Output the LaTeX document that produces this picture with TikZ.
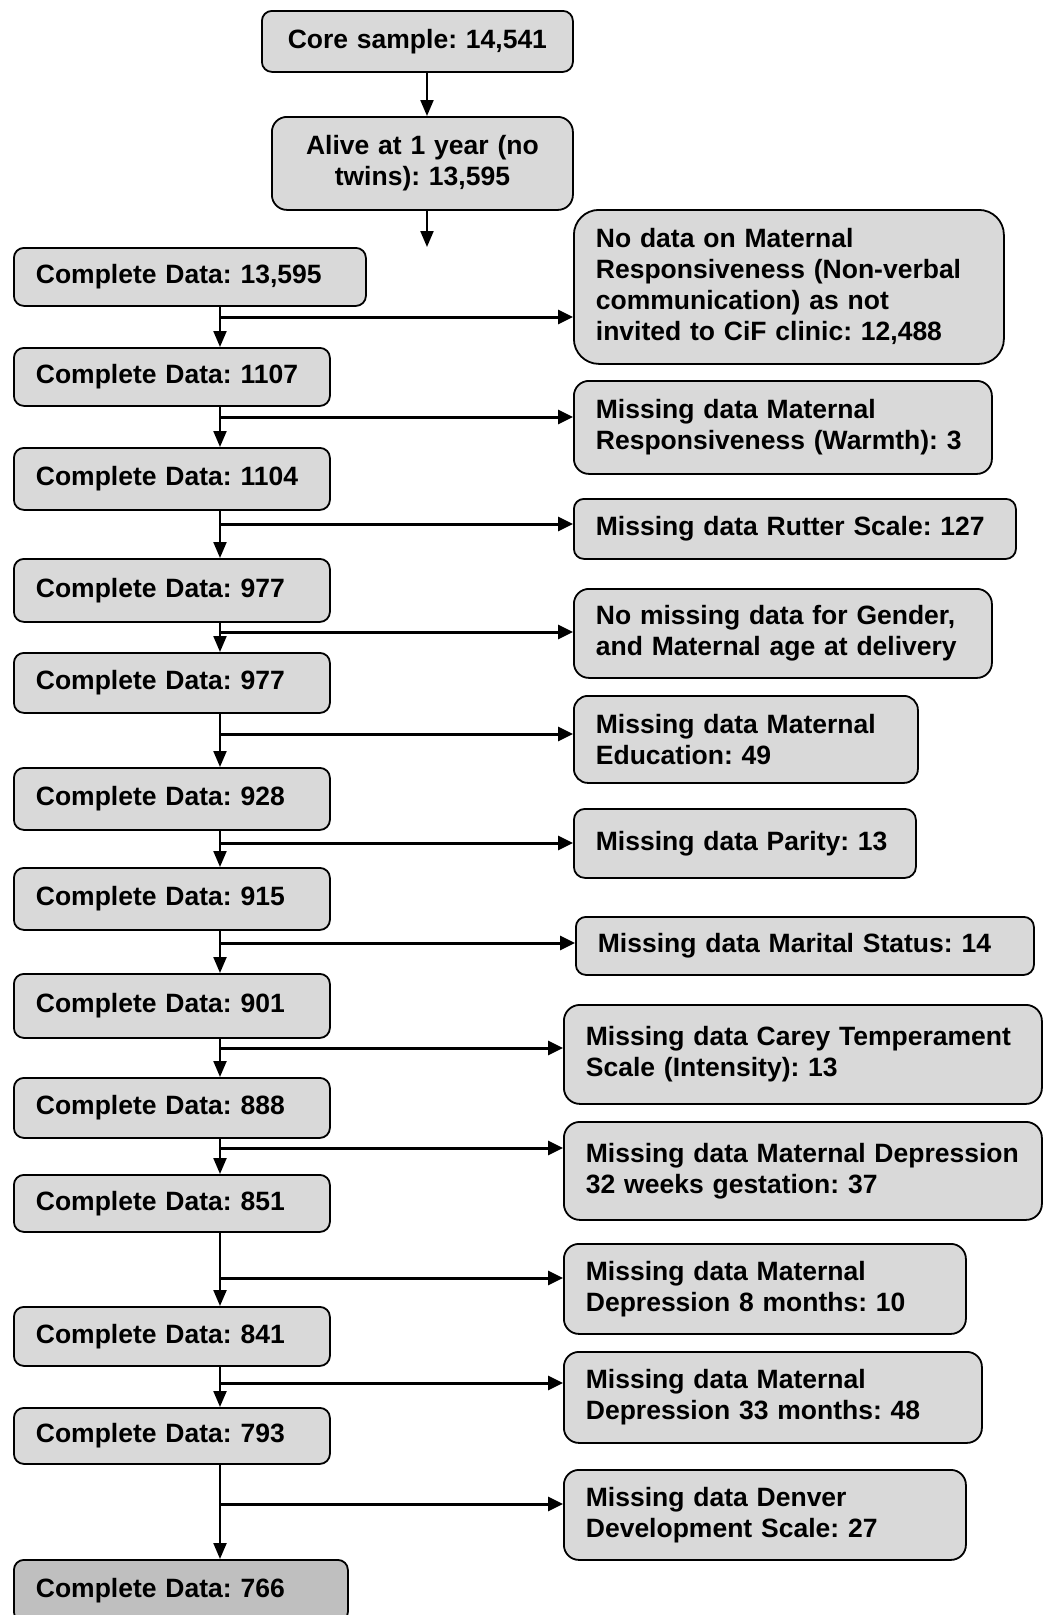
\documentclass[tikz,border=0pt]{standalone}
\usepackage{fontspec}
\setmainfont{Liberation Sans}
\usetikzlibrary{arrows.meta}
\definecolor{boxgray}{HTML}{D9D9D9}
\definecolor{lastgray}{HTML}{BFBFBF}
\frenchspacing

\begin{document}
\begin{tikzpicture}[x=1pt,y=-1pt,
 	stage/.style={draw, line width=1.8pt, fill=boxgray, rounded corners=10pt, anchor=north west, align=left, inner xsep=22pt, inner ysep=0pt, font=\fontsize{26.5}{31}\selectfont\bfseries},
 	flow/.style={line width=2.2pt, -{Triangle[length=16pt,width=13pt]}},
 	side/.style={line width=3pt, -{Triangle[length=15pt,width=14pt]}}]
 		\useasboundingbox (0,0) rectangle (1042,1615);
 		\node [stage, align=center, text width=267pt, minimum height=61pt] (core) at (261,10) {Core sample: 14,541};
 		\node [stage, align=center, text width=257pt, minimum height=93pt, rounded corners=15pt] (alive) at (271,116) {Alive at 1 year (no\\twins): 13,595};
 		\coordinate (top) at (427,0);
 		\coordinate (gap) at (427,247);
 		\draw [flow] (core.south -| top) -- (alive.north -| top);
 		\draw [flow] (alive.south -| top) -- (gap);
 		\node [stage, text width=308pt, minimum height=58pt] (cd1) at (13,247) {Complete Data: 13,595};
 		\node [stage, text width=272pt, minimum height=58pt] (cd2) at (13,347) {Complete Data: 1107};
 		\node [stage, text width=272pt, minimum height=62pt] (cd3) at (13,447) {Complete Data: 1104};
 		\node [stage, text width=272pt, minimum height=63pt] (cd4) at (13,558) {Complete Data: 977};
 		\node [stage, text width=272pt, minimum height=60pt] (cd5) at (13,652) {Complete Data: 977};
 		\node [stage, text width=272pt, minimum height=62pt] (cd6) at (13,767) {Complete Data: 928};
 		\node [stage, text width=272pt, minimum height=62pt] (cd7) at (13,867) {Complete Data: 915};
 		\node [stage, text width=272pt, minimum height=64pt] (cd8) at (13,973) {Complete Data: 901};
 		\node [stage, text width=272pt, minimum height=60pt] (cd9) at (13,1077) {Complete Data: 888};
 		\node [stage, text width=272pt, minimum height=57pt] (cd10) at (13,1174) {Complete Data: 851};
 		\node [stage, text width=272pt, minimum height=59pt] (cd11) at (13,1306) {Complete Data: 841};
 		\node [stage, text width=272pt, minimum height=56pt] (cd12) at (13,1407) {Complete Data: 793};
 		\node [stage, text width=290pt, minimum height=62pt, fill=lastgray] (cd13) at (13,1559) {Complete Data: 766};
 		\node [stage, text width=386pt, minimum height=154pt, rounded corners=25pt] (nodata) at (573,209) {No data on Maternal\\Responsiveness (Non-verbal\\communication) as not\\invited to CiF clinic: 12,488};
 		\node [stage, text width=374pt, minimum height=93pt, rounded corners=15pt] (warmth) at (573,380) {Missing data Maternal\\Responsiveness (Warmth): 3};
 		\node [stage, text width=398pt, minimum height=60pt] (rutter) at (573,498) {Missing data Rutter Scale: 127};
 		\node [stage, text width=374pt, minimum height=89pt, rounded corners=15pt] (gender) at (573,588) {No missing data for Gender,\\and Maternal age at delivery};
 		\node [stage, text width=300pt, minimum height=87pt, rounded corners=14pt] (educ) at (573,695) {Missing data Maternal\\Education: 49};
 		\node [stage, text width=298pt, minimum height=69pt, rounded corners=11pt] (parity) at (573,808) {Missing data Parity: 13};
 		\node [stage, text width=414pt, minimum height=58pt] (marital) at (575,916) {Missing data Marital Status: 14};
 		\node [stage, text width=434pt, minimum height=99pt, rounded corners=16pt] (carey) at (563,1004) {Missing data Carey Temperament\\Scale (Intensity): 13};
 		\node [stage, text width=434pt, minimum height=98pt, rounded corners=16pt] (dep32) at (563,1121) {Missing data Maternal Depression\\32 weeks gestation: 37};
 		\node [stage, text width=358pt, minimum height=90pt, rounded corners=15pt] (dep8) at (563,1243) {Missing data Maternal\\Depression 8 months: 10};
 		\node [stage, text width=374pt, minimum height=91pt, rounded corners=15pt] (dep33) at (563,1351) {Missing data Maternal\\Depression 33 months: 48};
 		\node [stage, text width=358pt, minimum height=90pt, rounded corners=15pt] (denver) at (563,1469) {Missing data Denver\\Development Scale: 27};
 		\coordinate (spine) at (220,0);
 		\draw [flow] (cd1.south -| spine) -- (cd2.north -| spine);
 		\draw [flow] (cd2.south -| spine) -- (cd3.north -| spine);
 		\draw [flow] (cd3.south -| spine) -- (cd4.north -| spine);
 		\draw [flow] (cd4.south -| spine) -- (cd5.north -| spine);
 		\draw [flow] (cd5.south -| spine) -- (cd6.north -| spine);
 		\draw [flow] (cd6.south -| spine) -- (cd7.north -| spine);
 		\draw [flow] (cd7.south -| spine) -- (cd8.north -| spine);
 		\draw [flow] (cd8.south -| spine) -- (cd9.north -| spine);
 		\draw [flow] (cd9.south -| spine) -- (cd10.north -| spine);
 		\draw [flow] (cd10.south -| spine) -- (cd11.north -| spine);
 		\draw [flow] (cd11.south -| spine) -- (cd12.north -| spine);
 		\draw [flow] (cd12.south -| spine) -- (cd13.north -| spine);
 		\coordinate (b1) at (220,317);
 		\coordinate (b2) at (220,417);
 		\coordinate (b3) at (220,524);
 		\coordinate (b4) at (220,632);
 		\coordinate (b5) at (220,734);
 		\coordinate (b6) at (220,843);
 		\coordinate (b7) at (220,943);
 		\coordinate (b8) at (220,1048);
 		\coordinate (b9) at (220,1148);
 		\coordinate (b10) at (220,1278);
 		\coordinate (b11) at (220,1383);
 		\coordinate (b12) at (220,1504);
 		\draw [side] (b1) -- (b1 -| nodata.west);
 		\draw [side] (b2) -- (b2 -| warmth.west);
 		\draw [side] (b3) -- (b3 -| rutter.west);
 		\draw [side] (b4) -- (b4 -| gender.west);
 		\draw [side] (b5) -- (b5 -| educ.west);
 		\draw [side] (b6) -- (b6 -| parity.west);
 		\draw [side] (b7) -- (b7 -| marital.west);
 		\draw [side] (b8) -- (b8 -| carey.west);
 		\draw [side] (b9) -- (b9 -| dep32.west);
 		\draw [side] (b10) -- (b10 -| dep8.west);
 		\draw [side] (b11) -- (b11 -| dep33.west);
 		\draw [side] (b12) -- (b12 -| denver.west);
 		\end{tikzpicture}
\end{document}
